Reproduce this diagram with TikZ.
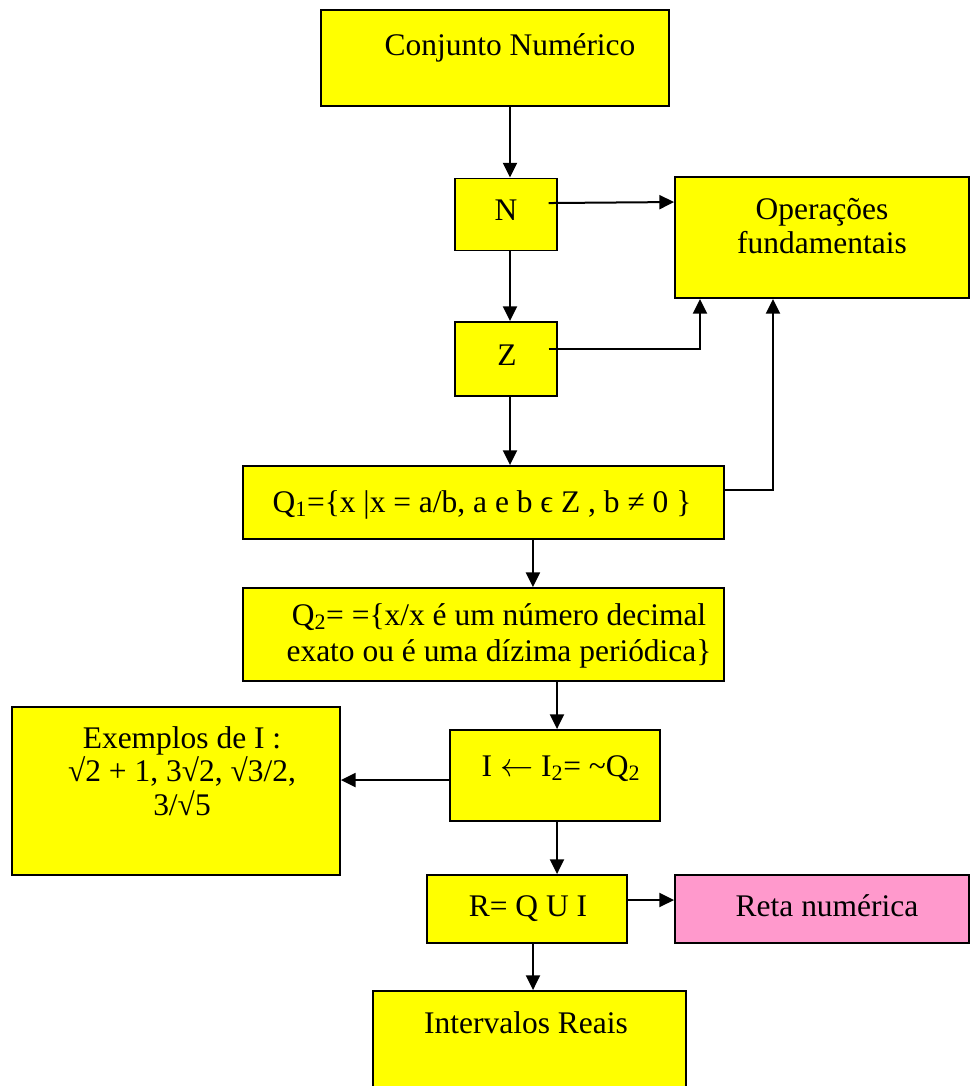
\documentclass[tikz,border=0pt]{standalone}
\usepackage{fontspec}
\setmainfont{Liberation Serif}
\usetikzlibrary{arrows.meta}
\definecolor{boxyellow}{HTML}{FFFF00}
\definecolor{pinkfill}{HTML}{FF99CC}
\begin{document}
\begin{tikzpicture}[x=0.75pt,y=-0.75pt,
  box/.style={draw=black,line width=1.4pt,fill=boxyellow,inner sep=0pt},
  pinkbox/.style={box,fill=pinkfill},
  txt/.style={anchor=base,inner sep=0pt,font=\fontsize{23.6}{26}\selectfont},
  link/.style={draw=black,line width=1.5pt,-{Triangle[length=11pt,width=10.5pt]}},
]
\useasboundingbox (0,0) rectangle (970,1086);
\clip (0,0) rectangle (970,1086);

% boxes
\node[box,minimum width=261pt,minimum height=72pt] (cn) at (495,58) {};
\node[box,minimum width=76.5pt,minimum height=54pt] (n) at (506,214.5) {};
\node[box,minimum width=220.5pt,minimum height=90.75pt] (op) at (822,237.5) {};
\node[box,minimum width=76.5pt,minimum height=55.5pt] (z) at (506,359) {};
\node[box,minimum width=360.75pt,minimum height=54.75pt] (q1) at (483.5,502.5) {};
\node[box,minimum width=360.75pt,minimum height=69.75pt] (q2) at (483.5,634.5) {};
\node[box,minimum width=246pt,minimum height=126pt] (ex) at (176,791) {};
\node[box,minimum width=157.5pt,minimum height=68.25pt] (ib) at (555,775.5) {};
\node[box,minimum width=150pt,minimum height=51pt] (r) at (527,909) {};
\node[pinkbox,minimum width=220.5pt,minimum height=51pt] (reta) at (822,909) {};
\node[box,minimum width=234.75pt,minimum height=81.75pt] (iv) at (529.5,1045.5) {};

% texts
\node[txt] (cnt) at (510,55) {Conjunto Numérico};
\node[txt] (nt) at (506,220) {N};
\node[txt] (opt1) at (822,219) {Operações};
\node[txt] (opt2) at (822,253) {fundamentais};
\node[txt] (zt) at (507,365) {Z};
\node[txt] (q1t) at (482,512) {Q\textsubscript{1}=\{x |x = a/b, a e b ϵ Z , b ≠ 0 \}};
\node[txt] (q2t1) at (499,625) {Q\textsubscript{2}= =\{x/x é um número decimal};
\node[txt] (q2t2) at (499,661) {exato ou é uma dízima periódica\}};
\node[txt] (ext1) at (182,748) {Exemplos de I :};
\node[txt] (ext2) at (182,781) {√2 + 1, 3√2, √3/2,};
\node[txt] (ext3) at (182,815) {3/√5};
\node[txt] (ibt) at (561,776) {I $\leftarrow$ I\textsubscript{2}= \textasciitilde Q\textsubscript{2}};
\node[txt] (rt) at (528,916) {R= Q U I};
\node[txt] (retat) at (827,916) {Reta numérica};
\node[txt] (ivt) at (526,1033) {Intervalos Reais};

% connectors
\draw[link] ([xshift=3pt]n.north |- cn.south) -- ([xshift=3pt]n.north);
\draw[link] ([xshift=-7pt,yshift=8.6pt]n.east) -- ([yshift=26.6pt]op.west);
\draw[link] ([xshift=3pt]n.south) -- ([xshift=3pt]z.north);
\draw[link] ([xshift=-7pt,yshift=7.5pt]z.east) -| ([xshift=-91.5pt]op.south);
\draw[link] ([xshift=3pt]z.south) -- ([xshift=3pt]z.south |- q1.north);
\draw[link] ([yshift=9.4pt]q1.east) -| ([xshift=-36.75pt]op.south);
\draw[link] ([xshift=37.1pt]q1.south) -- ([xshift=37.1pt]q1.south |- q2.north);
\draw[link] ([xshift=1.5pt]ib.north |- q2.south) -- ([xshift=1.5pt]ib.north);
\draw[link] ([yshift=-3.4pt]ib.west) -- ([yshift=-3.4pt]ib.west -| ex.east);
\draw[link] ([xshift=1.5pt]ib.south) -- ([xshift=1.5pt]ib.south |- r.north);
\draw[link] ([yshift=6.75pt]r.east) -- ([yshift=6.75pt]r.east -| reta.west);
\draw[link] ([xshift=4.5pt]r.south) -- ([xshift=4.5pt]r.south |- iv.north);
\end{tikzpicture}
\end{document}
